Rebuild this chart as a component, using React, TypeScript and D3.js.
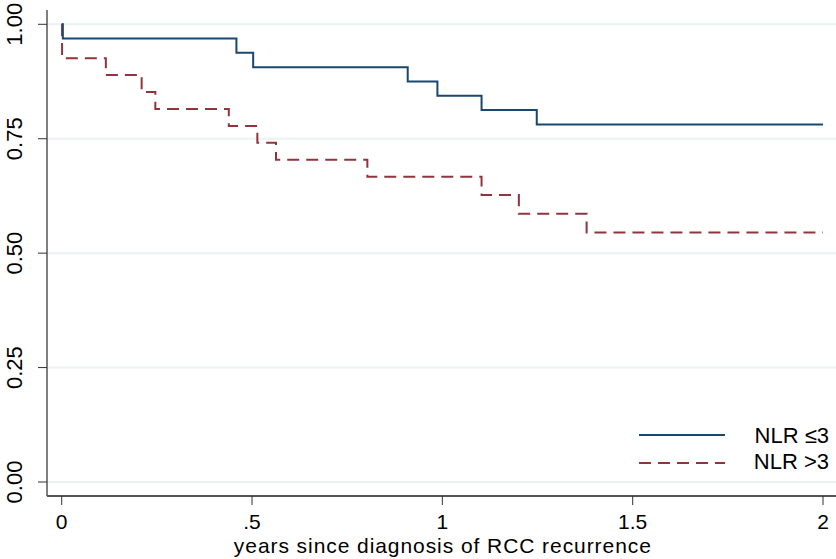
import * as d3 from "d3";

// Kaplan-Meier steps (years, survival)
const lowTimes = [0, 0.003, 0.459, 0.503, 0.909, 0.987, 1.103, 1.248, 2];
const lowSurv = [1, 0.969, 0.938, 0.906, 0.875, 0.844, 0.813, 0.781, 0.781];
const highTimes = [0, 0.001, 0.116, 0.21, 0.246, 0.439, 0.514, 0.563, 0.803, 1.103, 1.201, 1.379, 2];
const highSurv = [1, 0.926, 0.889, 0.852, 0.815, 0.778, 0.741, 0.704, 0.667, 0.627, 0.586, 0.545, 0.545];

const xTicks = [0, 0.5, 1, 1.5, 2];
const xTickLabels = ["0", ".5", "1", "1.5", "2"];
const yTicks = [0, 0.25, 0.5, 0.75, 1];
const yTickLabels = ["0.00", "0.25", "0.50", "0.75", "1.00"];
const legendLabels = ["NLR \u22643", "NLR >3"];
const xTitle = "years since diagnosis of RCC recurrence";

const W = 836;
const H = 559;
const FONT = "Liberation Sans, Arial, sans-serif";
const BLUE = "#1a476f";
const RED = "#90353b";

export default function App() {
  const x = d3.scaleLinear().domain([0, 2]).range([61.7, 823]);
  const y = d3.scaleLinear().domain([0, 1]).range([482, 24.3]);
  const axisLeft = 47;
  const axisBottom = 496;

  const line = d3
    .line<[number, number]>()
    .x((d) => x(d[0]))
    .y((d) => y(d[1]))
    .curve(d3.curveStepAfter);

  const lowPts = lowTimes.map((t, i) => [t, lowSurv[i]] as [number, number]);
  const highPts = highTimes.map((t, i) => [t, highSurv[i]] as [number, number]);

  return (
    <svg
      width={W}
      height={H}
      style={{ position: "absolute", left: 0, top: 0, background: "#fff" }}
      fontFamily={FONT}
    >
      {/* gridlines */}
      {yTicks.map((t) => (
        <line key={"g" + t} x1={axisLeft + 1} x2={W} y1={y(t)} y2={y(t)} stroke="#eaf2f3" strokeWidth={2} />
      ))}

      {/* curves */}
      <path d={line(highPts) ?? ""} fill="none" stroke={RED} strokeWidth={2} strokeDasharray="12,7" />
      <path d={line(lowPts) ?? ""} fill="none" stroke={BLUE} strokeWidth={2} />

      {/* y axis */}
      <line x1={axisLeft} x2={axisLeft} y1={10} y2={axisBottom} stroke="#555" strokeWidth={1.5} />
      {yTicks.map((t, i) => (
        <g key={"y" + t}>
          <line x1={38} x2={axisLeft} y1={y(t)} y2={y(t)} stroke="#333" strokeWidth={1} />
          <text
            transform={`translate(21.5,${y(t)}) rotate(-90)`}
            textAnchor="middle"
            fontSize={22}
            fill="#000"
          >
            {yTickLabels[i]}
          </text>
        </g>
      ))}

      {/* x axis */}
      <line x1={axisLeft} x2={W} y1={axisBottom} y2={axisBottom} stroke="#555" strokeWidth={2} />
      {xTicks.map((t, i) => (
        <g key={"x" + t}>
          <line x1={x(t)} x2={x(t)} y1={axisBottom} y2={505} stroke="#333" strokeWidth={1} />
          <text x={x(t)} y={529} textAnchor="middle" fontSize={21} fill="#000">
            {xTickLabels[i]}
          </text>
        </g>
      ))}
      <text
        x={(x(0) + x(2)) / 2}
        y={553}
        textAnchor="middle"
        fontSize={21}
        fill="#000"
        textLength={417}
        lengthAdjust="spacing"
      >
        {xTitle}
      </text>

      {/* legend */}
      <line x1={639} x2={725} y1={435} y2={435} stroke={BLUE} strokeWidth={2} />
      <line x1={639} x2={725} y1={463} y2={463} stroke={RED} strokeWidth={2} strokeDasharray="12,7" />
      <text x={829} y={443} textAnchor="end" fontSize={22} fill="#000">
        {legendLabels[0]}
      </text>
      <text x={829} y={469} textAnchor="end" fontSize={22} fill="#000">
        {legendLabels[1]}
      </text>
    </svg>
  );
}
